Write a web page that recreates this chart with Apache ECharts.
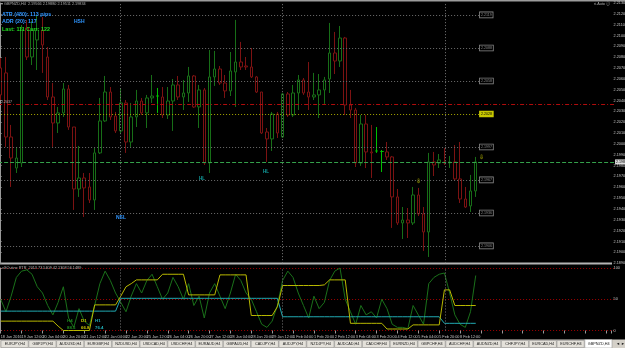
<!DOCTYPE html>
<html>
<head>
<meta charset="utf-8">
<title>GBPNZD,H4</title>
<script src="https://cdn.jsdelivr.net/npm/echarts@6/dist/echarts.min.js"></script>
<style>
html,body{margin:0;padding:0;background:#000;overflow:hidden;}
#chart{width:625px;height:348px;}
</style>
</head>
<body>
<div id="chart"></div>
<script>
// H4 bars, [open, close, low, high]
var candles = [
  [2.20701,2.20452,2.20405,2.20793],[2.20655,2.20064,2.19972,2.20802],[2.20064,2.19870,2.19603,2.20175],[2.19778,2.19870,2.19732,2.19972],
  [2.19824,2.21060,2.19787,2.21097],[2.21070,2.20802,2.20774,2.21144],[2.20802,2.21051,2.20728,2.21134],[2.20959,2.21051,2.20682,2.21190],
  [2.21051,2.20913,2.20655,2.21171],[2.20802,2.20433,2.20405,2.20894],[2.20433,2.20193,2.19972,2.20562],[2.20193,2.20286,2.20101,2.20341],
  [2.20286,2.20507,2.20249,2.20562],[2.20507,2.20156,2.20129,2.20544],[2.20156,2.19584,2.19391,2.20156],[2.19584,2.19686,2.19511,2.19981],
  [2.19686,2.19594,2.19326,2.19732],[2.19603,2.19483,2.19455,2.19732],[2.19483,2.19917,2.19391,2.19963],[2.19917,2.20212,2.19907,2.20424],
  [2.20212,2.20479,2.20203,2.20627],[2.20479,2.20249,2.20221,2.20525],[2.20258,2.20120,2.20101,2.20295],[2.20120,2.20378,2.20101,2.20516],
  [2.20378,2.20018,2.19917,2.20405],[2.20018,2.20249,2.19972,2.20378],[2.20249,2.20396,2.20156,2.20498],[2.20396,2.20286,2.20267,2.20424],
  [2.20286,2.20424,2.20147,2.20452],[2.20424,2.20442,2.20378,2.20636],[2.20442,2.20442,2.20286,2.20516],[2.20433,2.20267,2.20239,2.20525],
  [2.20267,2.20396,2.20230,2.20525],[2.20396,2.20544,2.20120,2.20599],[2.20544,2.20433,2.20405,2.20627],[2.20433,2.20470,2.20313,2.20590],
  [2.20470,2.20627,2.20387,2.20710],[2.20627,2.20341,2.20332,2.20636],[2.20341,2.20498,2.20147,2.20544],[2.20498,2.19824,2.19806,2.20516],
  [2.19824,2.20618,2.19732,2.20867],[2.20618,2.20691,2.20535,2.20858],[2.20691,2.20562,2.20544,2.20719],[2.20562,2.20489,2.20424,2.20636],
  [2.20489,2.20673,2.20442,2.20848],[2.20664,2.20756,2.20341,2.21144],[2.20756,2.20710,2.20682,2.20941],[2.20719,2.20710,2.20682,2.20802],
  [2.20710,2.20618,2.20608,2.20885],[2.20618,2.20479,2.20470,2.20627],[2.20479,2.20101,2.20092,2.20479],[2.20110,2.20046,2.19834,2.20147],
  [2.20046,2.20276,2.19935,2.20295],[2.20276,2.20101,2.20055,2.20295],[2.20064,2.20461,2.20055,2.20470],[2.20461,2.20267,2.20249,2.20479],
  [2.20267,2.20470,2.20249,2.20544],[2.20470,2.20590,2.20313,2.20636],[2.20590,2.20470,2.20452,2.20608],[2.20479,2.20433,2.20313,2.20756],
  [2.20433,2.20452,2.20405,2.20655],[2.20452,2.20498,2.20239,2.20645],[2.20498,2.20590,2.20369,2.20618],[2.20599,2.20839,2.20470,2.21116],
  [2.20839,2.20765,2.20645,2.21033],[2.20765,2.20977,2.20710,2.21088],[2.20977,2.20359,2.20267,2.20987],[2.20359,2.20313,2.20239,2.20498],
  [2.20313,2.19824,2.19787,2.20332],[2.19824,2.20184,2.19797,2.20267],[2.20184,2.19926,2.19778,2.20267],[2.19926,2.19917,2.19686,2.20175],
  [2.19935,2.19935,2.19917,2.20156],[2.19930,2.19930,2.19741,2.19944],[2.19926,2.19880,2.19852,2.20018],[2.19880,2.19511,2.19225,2.19889],
  [2.19511,2.19271,2.19252,2.19584],[2.19271,2.19298,2.19123,2.19418],[2.19298,2.19271,2.19132,2.19409],[2.19271,2.19529,2.19252,2.19603],
  [2.19529,2.19354,2.19335,2.19594],[2.19354,2.19188,2.19013,2.19418],[2.19188,2.19834,2.18957,2.19917],[2.19834,2.19806,2.19704,2.19926],
  [2.19824,2.19852,2.19778,2.19907],[2.19834,2.19824,2.19806,2.19963],[2.19824,2.19834,2.19778,2.19889],[2.19834,2.19677,2.19658,2.19990],
  [2.19677,2.19492,2.19455,2.20018],[2.19492,2.19418,2.19409,2.19603],[2.19428,2.19566,2.19372,2.19714],[2.19566,2.19834,2.19511,2.19880]
];
// one label every 4 bars
var timeLabels = ['18 Jan 2016','19 Jan 12:00','20 Jan 04:00','20 Jan 20:00','21 Jan 12:00','22 Jan 04:00','22 Jan 20:00',
  '25 Jan 12:00','26 Jan 04:00','26 Jan 20:00','27 Jan 12:00','28 Jan 04:00','28 Jan 20:00','29 Jan 12:00',
  '1 Feb 04:00','1 Feb 20:00','2 Feb 12:00','3 Feb 04:00','3 Feb 20:00','4 Feb 12:00','5 Feb 04:00','5 Feb 20:00','8 Feb 12:00'];
var roundLevels = [2.21190, 2.20885, 2.20581, 2.19972, 2.19668, 2.19363, 2.19059];
var yellowLevel = 2.20276;
var redLevel = 2.20369;
var bidPrice = 2.19834;
// lower window: three timeframes
var oscH4 = [50,30,55,85,95,97,90,70,60,40,25,45,70,20,5,35,15,8,40,75,95,80,60,45,30,55,75,60,80,90,70,50,60,85,70,50,
  75,40,55,20,60,75,55,35,60,90,80,60,50,30,10,5,15,40,80,95,85,60,40,20,55,35,45,80,95,100,50,30,10,40,25,30,
  20,50,35,10,5,5,3,40,25,10,75,85,90,92,60,25,10,5,30,88];
var oscD1 = [15,15,15,15,15,15,15,15,15,15,15,7,0,0,0,0,0,0,41,41,41,41,41,55,70,75,81,81,81,81,81,90,90,90,90,90,
  57,57,57,57,57,57,89,89,89,89,89,89,24,24,24,24,24,38,72,72,72,72,72,72,72,72,73,81,81,81,81,11.5,11.5,11.5,11.5,11.5,
  11.5,11.5,2.4,2.4,2.4,2.4,2.4,9,9,9,9,9,9,65,65,40,40,40,40,40];
var oscH1 = [31,31,31,31,31,31,31,31,31,31,31,31,31,31,31,31,31,31,31,31,31,31,31,51.5,51.5,51.5,51.5,51.5,51.5,51.5,
  51.5,51.5,51.5,51.5,51.5,51.5,51.5,51.5,51.5,51.5,51.5,51.5,51.5,51.5,51.5,51.5,51.5,51.5,51.5,51.5,51.5,51.5,51.5,51.5,
  22,22,22,22,22,22,22,22,22,22,22,22,22,22,22,22,22,22,22,22,22,22,22,22,22,22,22,22,22,22,22,11.5,11.5,11.5,11.5,11.5,11.5,11.5];
var tabs = ['EURJPY,H4','GBPJPY,H4','AUDUSD,H4','EURGBP,H4','NZDUSD,H4','USDCAD,H4','USDCHF,H4','EURAUD,H4','GBPAUD,H4',
  'CADJPY,H4','AUDJPY,H4','NZDJPY,H4','AUDCAD,H4','CADCHF,H4','EURNZD,H4','GBPCHF,H4','AUDCHF,H4','AUDNZD,H4',
  'CHFJPY,H4','EURCAD,H4','EURCHF,H4','GBPNZD,H4'];

var N = 118;              // bar slots incl. empty shift area on the right
var BAR = 5.22;
var gridLeft = -1.9;
var font = 'Liberation Sans, Arial, sans-serif';

var cats = [];
for (var i = 0; i < N; i++) cats.push(i % 4 === 0 && timeLabels[i / 4] ? timeLabels[i / 4] : '');

var candleItems = candles.map(function (c) {
  if (c[0] === c[1]) return { value: c, itemStyle: { borderColor: '#00c000', borderColor0: '#00c000' } };
  return c;
});

var vGrid = [23.35, 54.39, 85.61];   // vertical grid lines (bar units)
var levelEnd = 92.3;

var levelMarks = roundLevels.map(function (p) {
  return [{ coord: [0, p] }, { coord: [levelEnd, p], label: { formatter: p.toFixed(4) } }];
});
levelMarks.push([{ coord: [0, yellowLevel], lineStyle: { color: '#a8a800', type: [1, 2] } },
  { coord: [levelEnd, yellowLevel], label: { formatter: yellowLevel.toFixed(4), backgroundColor: '#c8c800', color: '#000', borderColor: '#c8c800' } }]);

var g = [];
g.push({ type: 'rect', shape: { x: 0, y: 0, width: 625, height: 1.5 }, style: { fill: '#9c9c9c' }, silent: true });
g.push({ type: 'rect', shape: { x: 0, y: 262.5, width: 612, height: 2 }, style: { fill: '#b4b4b4' }, silent: true });
g.push({ type: 'rect', shape: { x: 0, y: 339.5, width: 625, height: 8.5 }, style: { fill: '#d4d0c8' }, silent: true });
var tw = 27.8;
tabs.forEach(function (t, k) {
  var active = k === tabs.length - 1;
  g.push({ type: 'rect', shape: { x: 1 + k * tw, y: active ? 339.5 : 340.5, width: tw - 0.6, height: active ? 8.5 : 7 },
    style: { fill: active ? '#ffffff' : '#e4e1da', stroke: '#8a8a8a', lineWidth: 0.5 }, silent: true });
  g.push({ type: 'text', x: 1 + k * tw + tw / 2, y: 344, silent: true,
    style: { text: t, fill: '#202020', font: '3.8px ' + font, align: 'center', verticalAlign: 'middle' } });
});
g.push({ type: 'text', x: 616, y: 344, silent: true, style: { text: '◄ ►', fill: '#202020', font: '4px ' + font, verticalAlign: 'middle' } });

function txt(s, x, y, color, size, bold) {
  g.push({ type: 'text', x: x, y: y, silent: true, z: 50,
    style: { text: s, fill: color, font: (bold ? 'bold ' : '') + size + 'px ' + font, verticalAlign: 'middle' } });
}
txt('\u25BE GBPNZD,H4  2.19566 2.19880 2.19511 2.19834', 1, 3.5, '#b0b0b0', 3.8);
txt('ri.Auto \u24D8', 594, 3.5, '#b0b0b0', 3.8);
txt('ATR (480): 113 pips', 2, 15, '#2f95ff', 5.4, true);
txt('ADR (20): 117', 2, 22, '#2f95ff', 5.4, true);
txt('HSH', 74, 22, '#2f95ff', 5, true);
txt('Last: 111 Curr: 122', 2, 29.5, '#22dd22', 5.4, true);
txt('NSL', 116, 217.5, '#2f95ff', 5, true);
txt('HL', 199, 179, '#11a0a0', 4.5, true);
txt('HL', 263, 172, '#11a0a0', 4.5, true);
txt('\u21E9', 416, 181, '#d8d800', 6);
txt('\u21E9', 479, 157, '#d8d800', 6);
txt('xSOutine RTR_2013 73.5409 42.1308 56.1489', 2, 267.5, '#b0b0b0', 3.8);
txt('H4', 67, 321, '#1e8a1e', 4.4, true);
txt('D1', 81, 321, '#c8c800', 4.4, true);
txt('H1', 95, 321, '#20b0b8', 4.4, true);
txt('88.5', 67, 327.5, '#1e8a1e', 4.4, true);
txt('66.8', 81, 327.5, '#c8c800', 4.4, true);
txt('76.4', 95, 327.5, '#20b0b8', 4.4, true);

var chart = echarts.init(document.getElementById('chart'), null, { renderer: 'canvas' });
chart.setOption({
  backgroundColor: '#000',
  animation: false,
  grid: [
    { left: gridLeft, top: 3, width: N * BAR, height: 260.16, outerBoundsMode: 'none' },
    { left: gridLeft, top: 268, width: N * BAR, height: 62.5, outerBoundsMode: 'none' }
  ],
  xAxis: [
    { type: 'category', gridIndex: 0, data: cats, boundaryGap: true, show: false },
    { type: 'category', gridIndex: 1, data: cats, boundaryGap: true,
      axisLine: { show: false },
      axisTick: { show: true, interval: 3, alignWithLabel: true, length: 3, lineStyle: { color: '#9a9a9a' } },
      axisLabel: { interval: 0, align: 'left', margin: 4, fontSize: 3.8, color: '#c4c4c4', fontFamily: font },
      splitLine: { show: false } },
    { type: 'value', gridIndex: 0, min: 0, max: N, show: false },
    { type: 'value', gridIndex: 1, min: 0, max: N, show: false }
  ],
  yAxis: [
    { type: 'value', gridIndex: 0, position: 'right', offset: -2, min: 2.189, max: 2.213, interval: 0.001,
      axisLine: { show: true, lineStyle: { color: '#9a9a9a' } },
      axisTick: { show: true, length: 1.5, lineStyle: { color: '#9a9a9a' } },
      axisLabel: { margin: 1.5, fontSize: 3.8, color: '#c4c4c4', fontFamily: font, formatter: function (v) { return v.toFixed(5); } },
      splitLine: { show: false } },
    { type: 'value', gridIndex: 1, position: 'right', offset: -2, min: 0, max: 100, interval: 50,
      axisLine: { show: true, lineStyle: { color: '#9a9a9a' } },
      axisTick: { show: true, length: 1.5, lineStyle: { color: '#9a9a9a' } },
      axisLabel: { margin: 1.5, fontSize: 3.8, color: '#c4c4c4', fontFamily: font },
      splitLine: { show: true, lineStyle: { color: '#a00000', type: [1, 2], width: 1 } } }
  ],
  series: [
    { type: 'line', xAxisIndex: 2, yAxisIndex: 0, data: [], silent: true,
      markLine: { silent: true, symbol: 'none', animation: false,
        lineStyle: { color: '#787878', type: [1, 2], width: 1 },
        label: { show: false },
        data: vGrid.map(function (v) { return { xAxis: v }; }) } },
    { type: 'line', xAxisIndex: 3, yAxisIndex: 1, data: [], silent: true,
      markLine: { silent: true, symbol: 'none', animation: false,
        lineStyle: { color: '#787878', type: [1, 2], width: 1 },
        label: { show: false },
        data: vGrid.map(function (v) { return { xAxis: v }; }) } },
    { type: 'line', xAxisIndex: 2, yAxisIndex: 0, data: [], silent: true,
      markLine: { silent: true, symbol: 'none', animation: false,
        lineStyle: { color: '#6e6e6e', type: [1, 2], width: 1 },
        label: { show: true, position: 'end', distance: 0, fontSize: 3.6, fontFamily: font, color: '#8a8a8a',
          backgroundColor: '#000', borderColor: '#8a8a8a', borderWidth: 0.8, padding: [0.5, 1] },
        data: levelMarks } },
    { type: 'line', xAxisIndex: 2, yAxisIndex: 0, data: [], silent: true,
      markLine: { silent: true, symbol: 'none', animation: false,
        data: [
          [{ coord: [0, redLevel], lineStyle: { color: '#b00c0c', type: [4, 2, 1, 2], width: 1 },
             label: { show: true, position: 'insideStartTop', distance: 0, formatter: '\u00AB 2.2037', fontSize: 3.6, color: '#b0b0b0', fontFamily: font } },
           { coord: [N, redLevel] }],
          [{ coord: [0, bidPrice], lineStyle: { color: '#34a04a', type: [4, 2], width: 1 },
             label: { show: true, position: 'end', distance: 1, formatter: bidPrice.toFixed(5), fontSize: 3.6, color: '#000',
               backgroundColor: '#dcdcdc', padding: [0.5, 1], fontFamily: font } },
           { coord: [N, bidPrice] }],
          [{ coord: [0, bidPrice], lineStyle: { opacity: 0 },
             label: { show: true, position: 'insideStartTop', distance: 0, formatter: 'adr  lo  2.19834', fontSize: 3.6, color: '#b0b0b0', fontFamily: font } },
           { coord: [N, bidPrice] }]
        ] } },
    { type: 'candlestick', xAxisIndex: 0, yAxisIndex: 0, data: candleItems, barWidth: 3,
      itemStyle: { color: '#000', color0: '#000', borderColor: '#176e17', borderColor0: '#7c1212', borderWidth: 1 } },
    { type: 'line', xAxisIndex: 1, yAxisIndex: 1, data: oscH4, symbol: 'none', lineStyle: { color: '#1a701a', width: 1 } },
    { type: 'line', xAxisIndex: 1, yAxisIndex: 1, data: oscH1, symbol: 'none', lineStyle: { color: '#20aab2', width: 1 } },
    { type: 'line', xAxisIndex: 1, yAxisIndex: 1, data: oscD1, symbol: 'none', lineStyle: { color: '#b8b800', width: 1 } }
  ],
  graphic: g
});
</script>
</body>
</html>
